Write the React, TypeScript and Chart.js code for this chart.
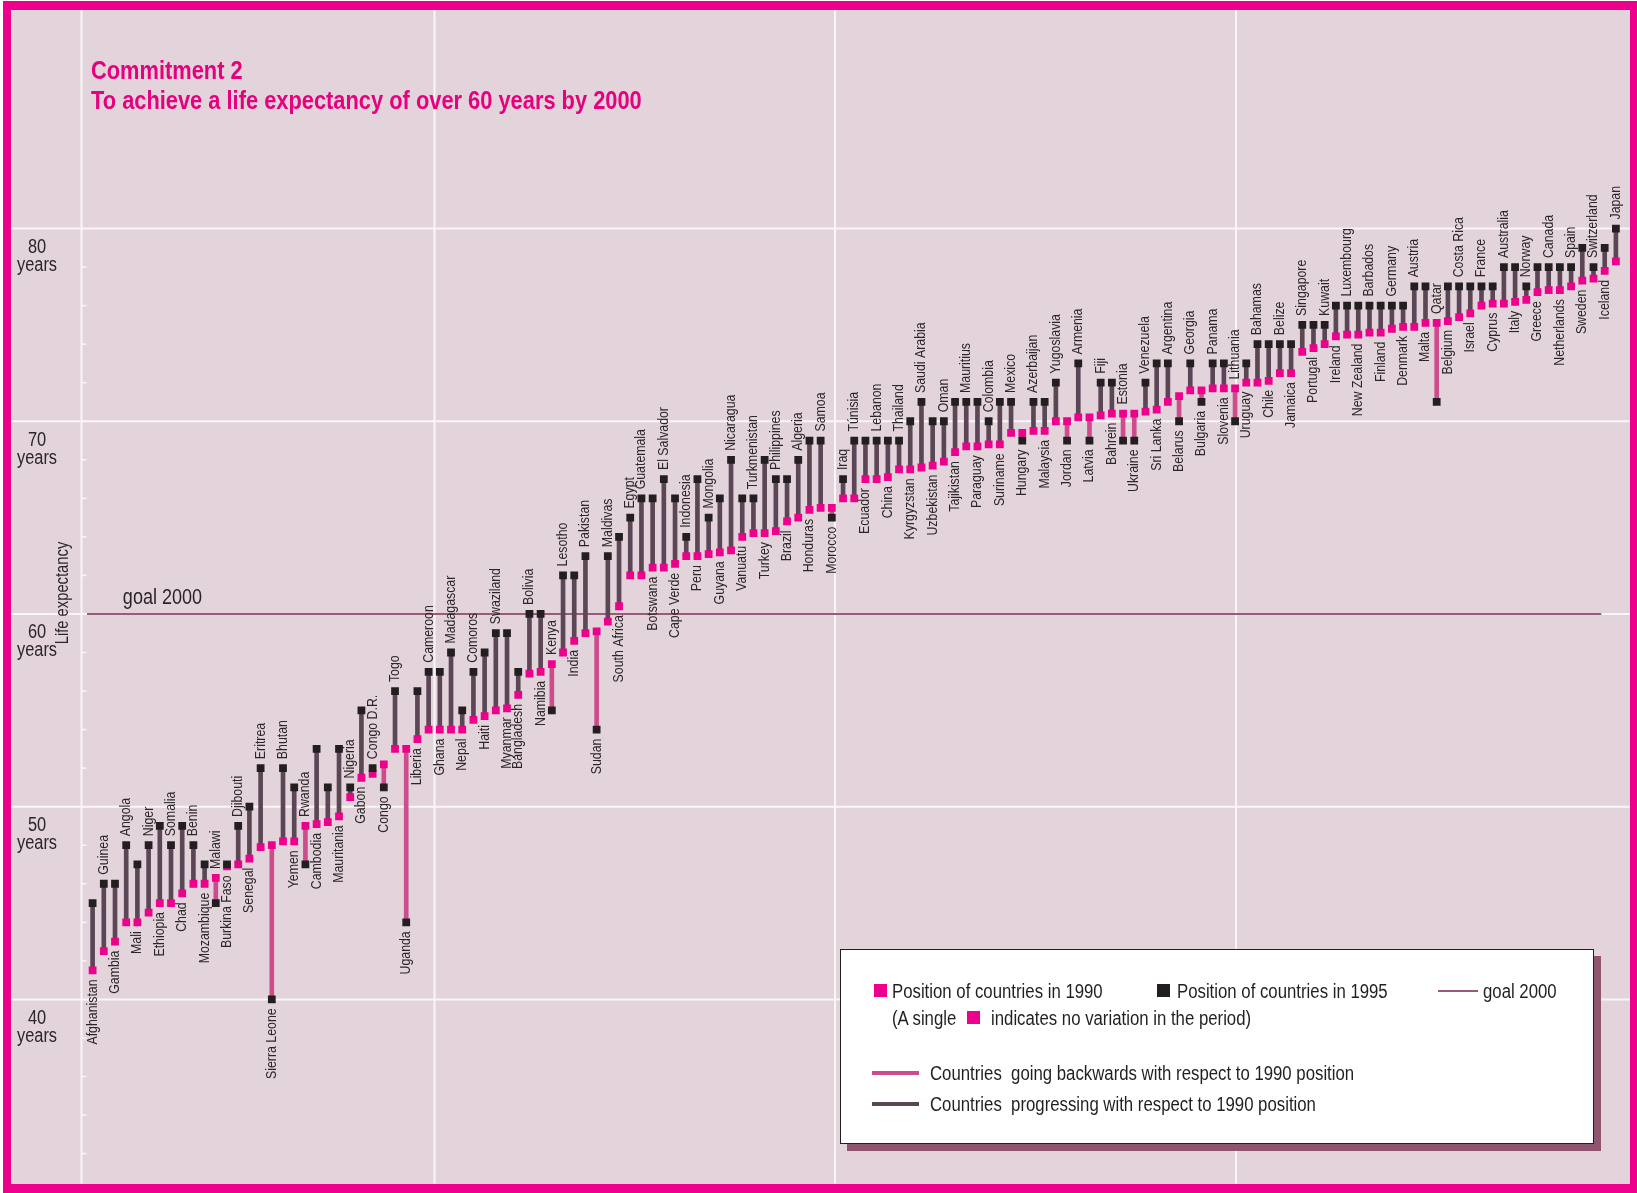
import React, { useEffect, useRef } from "react";
import { Chart, registerables } from "chart.js";

Chart.register(...registerables);

// ---------------- data ----------------
const countries = [
  "Afghanistan", "Guinea", "Gambia", "Angola", "Mali", "Niger", "Ethiopia", "Somalia", "Chad", "Benin",
  "Mozambique", "Malawi", "Burkina Faso", "Djibouti", "Senegal", "Eritrea", "Sierra Leone", "Bhutan", "Yemen", "Rwanda",
  "Cambodia", "", "Mauritania", "Nigeria", "Gabon", "Congo D.R.", "Congo", "Togo", "Uganda", "Liberia",
  "Cameroon", "Ghana", "Madagascar", "Nepal", "Comoros", "Haiti", "Swaziland", "Myanmar", "Bangladesh", "Bolivia",
  "Namibia", "Kenya", "Lesotho", "India", "Pakistan", "Sudan", "Maldivas", "South Africa", "Egypt", "Guatemala",
  "Botswana", "El Salvador", "Cape Verde", "Indonesia", "Peru", "Mongolia", "Guyana", "Nicaragua", "Vanuatu", "Turkmenistan",
  "Turkey", "Philippines", "Brazil", "Algeria", "Honduras", "Samoa", "Morocco", "Iraq", "Túnisia", "Ecuador",
  "Lebanon", "China", "Thailand", "Kyrgyzstan", "Saudi Arabia", "Uzbekistan", "Oman", "Tajikistan", "Mauritius", "Paraguay",
  "Colombia", "Suriname", "Mexico", "Hungary", "Azerbaijan", "Malaysia", "Yugoslavia", "Jordan", "Armenia", "Latvia",
  "Fiji", "Bahrein", "Estonia", "Ukraine", "Venezuela", "Sri Lanka", "Argentina", "Belarus", "Georgia", "Bulgaria",
  "Panama", "Slovenia", "Lithuania", "Uruguay", "Bahamas", "Chile", "Belize", "Jamaica", "Singapore", "Portugal",
  "Kuwait", "Ireland", "Luxembourg", "New Zealand", "Barbados", "Finland", "Germany", "Denmark", "Austria", "Malta",
  "Qatar", "Belgium", "Costa Rica", "Israel", "France", "Cyprus", "Australia", "Italy", "Norway", "Greece",
  "Canada", "Netherlands", "Spain", "Sweden", "Switzerland", "Iceland", "Japan",
];

const life1990 = [
  41.5, 42.5, 43, 44, 44, 44.5, 45, 45, 45.5, 46,
  46, 46.3, 46.9, 47, 47.3, 47.9, 48, 48.2, 48.2, 49,
  49.1, 49.2, 49.5, 50.5, 51.5, 51.7, 52.2, 53, 53, 53.5,
  54, 54, 54, 54, 54.5, 54.7, 55, 55.1, 55.8, 56.9,
  57, 57.4, 58, 58.6, 59, 59.1, 59.6, 60.4, 62, 62,
  62.4, 62.4, 62.6, 63, 63, 63.1, 63.2, 63.3, 64, 64.2,
  64.2, 64.3, 64.8, 65, 65.4, 65.5, 65.5, 66, 66, 67,
  67, 67.1, 67.5, 67.5, 67.6, 67.7, 67.9, 68.4, 68.7, 68.7,
  68.8, 68.8, 69.4, 69.4, 69.5, 69.5, 70, 70, 70.2, 70.2,
  70.3, 70.4, 70.4, 70.4, 70.5, 70.6, 71, 71.3, 71.6, 71.6,
  71.7, 71.7, 71.7, 72, 72, 72.1, 72.5, 72.5, 73.6, 73.8,
  74, 74.4, 74.5, 74.5, 74.6, 74.6, 74.8, 74.9, 74.9, 75.1,
  75.1, 75.2, 75.4, 75.6, 76, 76.1, 76.1, 76.2, 76.3, 76.7,
  76.8, 76.8, 77, 77.3, 77.4, 77.8, 78.3,
];

const life1995 = [
  45, 46, 46, 48, 47, 48, 49, 48, 49, 48,
  47, 45, 47, 49, 50, 52, 40, 52, 51, 47,
  53, 51, 53, 51, 55, 52, 51, 56, 44, 56,
  57, 57, 58, 55, 57, 58, 59, 59, 57, 60,
  60, 55, 62, 62, 63, 54, 63, 64, 65, 66,
  66, 67, 66, 64, 67, 65, 66, 68, 66, 66,
  68, 67, 67, 68, 69, 69, 65, 67, 69, 69,
  69, 69, 69, 70, 71, 70, 70, 71, 71, 71,
  70, 71, 71, 69, 71, 71, 72, 69, 73, 69,
  72, 72, 69, 69, 72, 73, 73, 70, 73, 71,
  73, 73, 70, 73, 74, 74, 74, 74, 75, 75,
  75, 76, 76, 76, 76, 76, 76, 76, 77, 77,
  71, 77, 77, 77, 77, 77, 78, 78, 77, 78,
  78, 78, 78, 79, 78, 79, 80,
];

// label placement: "a" = above the bar, "b" = below the bar
const labelSide = [
  "b", "a", "b", "a", "b", "a", "b", "a", "b", "a",
  "b", "a", "b", "a", "b", "a", "b", "a", "b", "a",
  "b", "b", "b", "a", "b", "a", "b", "a", "b", "b",
  "a", "b", "a", "b", "a", "b", "a", "b", "b", "a",
  "b", "a", "a", "b", "a", "b", "a", "b", "a", "a",
  "b", "a", "b", "a", "b", "a", "b", "a", "b", "a",
  "b", "a", "b", "a", "b", "a", "b", "a", "a", "b",
  "a", "b", "a", "b", "a", "b", "a", "b", "a", "b",
  "a", "b", "a", "b", "a", "b", "a", "b", "a", "b",
  "a", "b", "a", "b", "a", "b", "a", "b", "a", "b",
  "a", "b", "a", "b", "a", "b", "a", "b", "a", "b",
  "a", "b", "a", "b", "a", "b", "a", "b", "a", "b",
  "a", "b", "a", "b", "a", "b", "a", "b", "a", "b",
  "a", "b", "a", "b", "a", "b", "a",
];

const yTickValues = [40, 50, 60, 70, 80];
const yTickUnit = "years";
const goalValue = 60;
const goalLabel = "goal 2000";
const axisTitle = "Life expectancy";
const titleLines = ["Commitment 2", "To achieve a life expectancy of over 60 years by 2000"];

// ---------------- style ----------------
const PINK = "#EC008C";
const TITLE_PINK = "#E6007E";
const BG = "#E3D4DC";
const INK = "#231F20";
const TEXT = "#2B2628";
const PROGRESS = "#5A4654";
const BACKWARD = "#CC4C8C";
const GOAL = "#9A5A7C";
const SHADOW = "#8E5470";
const SANS = '"Liberation Sans", Arial, Helvetica, sans-serif';
const NARROW_X = 0.82; // horizontal compression to emulate a condensed face

const W = 1637;
const H = 1193;
const FRAME = { left: 11, top: 10, right: 1630, bottom: 1184 };

function narrowText(ctx: any, text: string, x: number, y: number, rot: number, scale = NARROW_X) {
  ctx.save();
  ctx.translate(x, y);
  if (rot) ctx.rotate(rot);
  ctx.scale(scale, 1);
  ctx.fillText(text, 0, 0);
  ctx.restore();
}

const backgroundPlugin = {
  id: "background",
  beforeDraw(chart: any) {
    const { ctx, width, height } = chart;
    const y = chart.scales.y;
    ctx.save();
    ctx.fillStyle = "#ffffff";
    ctx.fillRect(0, 0, width, height);
    ctx.fillStyle = PINK;
    ctx.fillRect(3, 1, width - 3, height - 1);
    ctx.fillStyle = BG;
    ctx.fillRect(FRAME.left, FRAME.top, FRAME.right - FRAME.left, FRAME.bottom - FRAME.top);

    // vertical page grid
    ctx.strokeStyle = "#FAF6F8";
    ctx.lineWidth = 2;
    [81.5, 434.5, 835, 1236].forEach((gx) => {
      ctx.beginPath();
      ctx.moveTo(gx, FRAME.top);
      ctx.lineTo(gx, FRAME.bottom);
      ctx.stroke();
    });
    // horizontal grid
    yTickValues.forEach((v) => {
      const py = y.getPixelForValue(v);
      ctx.beginPath();
      ctx.moveTo(FRAME.left, py);
      ctx.lineTo(FRAME.right, py);
      ctx.stroke();
    });
    // minor ticks every 2 years
    ctx.lineWidth = 1.5;
    for (let v = 32; v <= 78; v += 2) {
      if (v % 10 === 0) continue;
      const py = y.getPixelForValue(v);
      ctx.beginPath();
      ctx.moveTo(81.5, py);
      ctx.lineTo(86.5, py);
      ctx.stroke();
    }
    // tick labels
    ctx.fillStyle = TEXT;
    ctx.textAlign = "center";
    ctx.textBaseline = "middle";
    ctx.font = `20px ${SANS}`;
    yTickValues.forEach((v) => {
      const py = y.getPixelForValue(v);
      narrowText(ctx, String(v), 37, py + 19, 0);
      narrowText(ctx, yTickUnit, 37, py + 37, 0);
    });
    // axis title
    ctx.font = `18px ${SANS}`;
    narrowText(ctx, axisTitle, 63, 593, -Math.PI / 2);
    ctx.restore();
  },
  beforeDatasetsDraw(chart: any) {
    const { ctx } = chart;
    const x = chart.scales.x;
    const y = chart.scales.y;
    const py = y.getPixelForValue(goalValue);
    ctx.save();
    ctx.strokeStyle = GOAL;
    ctx.lineWidth = 2;
    ctx.beginPath();
    ctx.moveTo(x.getPixelForValue(-0.5), py);
    ctx.lineTo(x.getPixelForValue(134.7), py);
    ctx.stroke();
    ctx.fillStyle = TEXT;
    ctx.font = `22px ${SANS}`;
    ctx.textAlign = "left";
    ctx.textBaseline = "alphabetic";
    narrowText(ctx, goalLabel, x.getPixelForValue(2.7), py - 10, 0);
    ctx.restore();
  },
  afterDatasetsDraw(chart: any) {
    const { ctx } = chart;
    const x = chart.scales.x;
    const y = chart.scales.y;
    ctx.save();
    ctx.fillStyle = TEXT;
    ctx.font = `14.5px ${SANS}`;
    ctx.textBaseline = "middle";
    countries.forEach((name, i) => {
      if (!name) return;
      const px = x.getPixelForValue(i);
      const p1 = y.getPixelForValue(life1990[i]);
      const p2 = y.getPixelForValue(life1995[i]);
      if (labelSide[i] === "a") {
        ctx.textAlign = "left";
        narrowText(ctx, name, px, Math.min(p1, p2) - 9, -Math.PI / 2, 0.85);
      } else {
        ctx.textAlign = "right";
        narrowText(ctx, name, px, Math.max(p1, p2) + 9, -Math.PI / 2, 0.85);
      }
    });
    ctx.restore();
  },
};

function Legend() {
  const txt: React.CSSProperties = {
    position: "absolute",
    font: `19.5px ${SANS}`,
    color: INK,
    lineHeight: "22px",
    whiteSpace: "pre",
    transform: "scaleX(0.86)",
    transformOrigin: "left center",
  };
  const sq = (left: number, top: number, color: string): React.CSSProperties => ({
    position: "absolute", left, top, width: 13, height: 13, background: color,
  });
  return (
    <div
      style={{
        position: "absolute",
        left: 840,
        top: 949,
        width: 752,
        height: 193,
        background: "#ffffff",
        border: `1px solid ${INK}`,
        boxShadow: `7px 7px 0 ${SHADOW}`,
      }}
    >
      <div style={sq(33, 34, PINK)} />
      <div style={{ ...txt, left: 51, top: 30 }}>Position of countries in 1990</div>
      <div style={sq(316, 34, INK)} />
      <div style={{ ...txt, left: 336, top: 30 }}>Position of countries in 1995</div>
      <div style={{ position: "absolute", left: 597, top: 40, width: 40, height: 2, background: GOAL }} />
      <div style={{ ...txt, left: 642, top: 30 }}>goal 2000</div>
      <div style={{ ...txt, left: 51, top: 57 }}>(A single</div>
      <div style={sq(126, 61, PINK)} />
      <div style={{ ...txt, left: 150, top: 57 }}>indicates no variation in the period)</div>
      <div style={{ position: "absolute", left: 31, top: 121, width: 47, height: 4, background: BACKWARD }} />
      <div style={{ ...txt, left: 89, top: 112 }}>{"Countries  going backwards with respect to 1990 position"}</div>
      <div style={{ position: "absolute", left: 31, top: 152, width: 47, height: 4, background: PROGRESS }} />
      <div style={{ ...txt, left: 89, top: 143 }}>{"Countries  progressing with respect to 1990 position"}</div>
    </div>
  );
}

export default function App() {
  const canvasRef = useRef<HTMLCanvasElement | null>(null);

  useEffect(() => {
    if (!canvasRef.current) return;
    const chart = new Chart(canvasRef.current, {
      type: "bar",
      data: {
        labels: countries,
        datasets: [
          {
            type: "line",
            label: "Position of countries in 1995",
            data: life1995,
            showLine: false,
            pointStyle: "rect",
            pointRadius: 5.5,
            pointHoverRadius: 5.5,
            pointBackgroundColor: INK,
            pointBorderWidth: 0,
            borderWidth: 0,
            order: 1,
          } as any,
          {
            type: "line",
            label: "Position of countries in 1990",
            data: life1990,
            showLine: false,
            pointStyle: "rect",
            pointRadius: 5.5,
            pointHoverRadius: 5.5,
            pointBackgroundColor: PINK,
            pointBorderWidth: 0,
            borderWidth: 0,
            order: 2,
          } as any,
          {
            type: "bar",
            label: "change",
            data: life1990.map((v, i) => [v, life1995[i]]),
            backgroundColor: (c: any) =>
              life1995[c.dataIndex] < life1990[c.dataIndex] ? BACKWARD : PROGRESS,
            barThickness: 4,
            grouped: false,
            order: 3,
          } as any,
        ],
      },
      options: {
        animation: false,
        responsive: true,
        maintainAspectRatio: false,
        layout: { padding: { left: 87, right: 15.5, top: FRAME.top, bottom: H - FRAME.bottom } },
        plugins: { legend: { display: false }, tooltip: { enabled: false } },
        scales: {
          x: { type: "category", display: false, offset: true },
          y: { type: "linear", display: false, min: 30.42, max: 91.34 },
        },
      },
      plugins: [backgroundPlugin],
    });
    return () => chart.destroy();
  }, []);

  return (
    <div style={{ position: "fixed", left: 0, top: 0, width: W, height: H, overflow: "hidden" }}>
      <div style={{ position: "absolute", left: 0, top: 0, width: W, height: H }}>
        <canvas ref={canvasRef} />
      </div>
      <div
        style={{
          position: "absolute",
          left: 91,
          top: 55,
          font: `bold 26px ${SANS}`,
          lineHeight: "30px",
          color: TITLE_PINK,
          whiteSpace: "pre",
          transform: "scaleX(0.84)",
          transformOrigin: "left top",
        }}
      >
        {titleLines[0]}
        <br />
        {titleLines[1]}
      </div>
      <Legend />
    </div>
  );
}
